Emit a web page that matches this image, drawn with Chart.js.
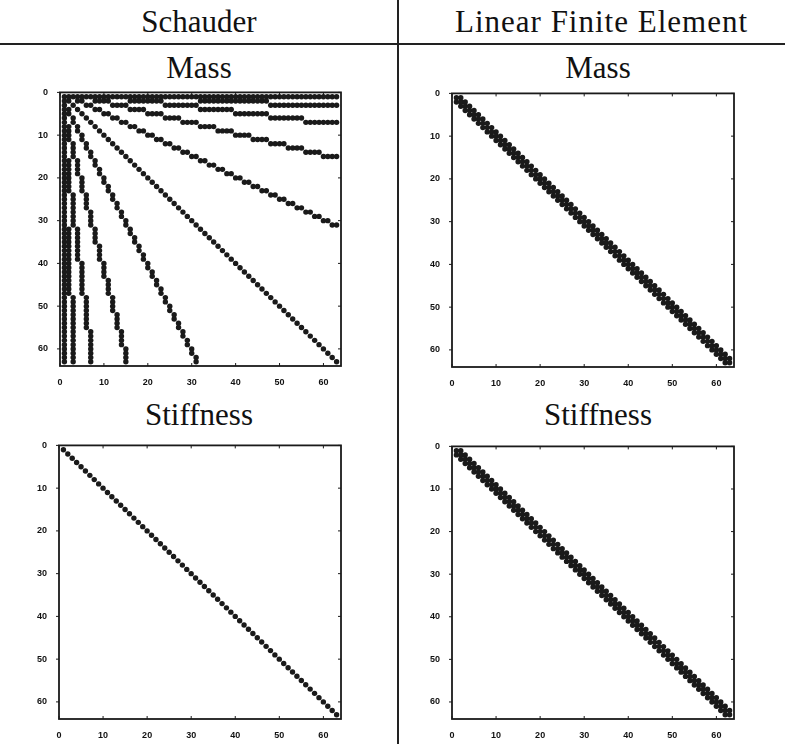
<!DOCTYPE html>
<html>
<head>
<meta charset="utf-8">
<script src="https://cdn.jsdelivr.net/npm/chart.js@4.4.1/dist/chart.umd.min.js"></script>
<style>
  html, body { margin: 0; padding: 0; background: #fff; }
  #page { position: relative; width: 785px; height: 744px; background: #fff; overflow: hidden; }
  .label { position: absolute; text-align: center; font-family: "Liberation Serif", serif; font-size: 31px; line-height: 36px; color: #111; white-space: nowrap; }
  .rule-h { position: absolute; left: 0; top: 43px; width: 785px; height: 2px; background: #222; }
  .rule-v { position: absolute; left: 397px; top: 0; width: 2px; height: 744px; background: #222; }
  canvas { position: absolute; }
</style>
</head>
<body>
<div id="page">
  <div class="label" style="left:0; width:398px; top:4px;">Schauder</div>
  <div class="label" style="left:408px; width:387px; top:4px; letter-spacing:1px;">Linear Finite Element</div>
  <div class="rule-h"></div>
  <div class="rule-v"></div>
  <div class="label" style="left:0; width:398px; top:50px;">Mass</div>
  <div class="label" style="left:398px; width:400px; top:50px;">Mass</div>
  <div class="label" style="left:0; width:398px; top:397px;">Stiffness</div>
  <div class="label" style="left:398px; width:400px; top:397px;">Stiffness</div>

  <canvas id="schauderMass"></canvas>
  <canvas id="feMass"></canvas>
  <canvas id="schauderStiff"></canvas>
  <canvas id="feStiff"></canvas>
</div>

<script>
// matrix size (nodes 1..63) and axis ticks
const matrixSize = 63;
const axisMax = 64;
const axisTicks = [0, 10, 20, 30, 40, 50, 60];

// Schauder mass: upper-triangle runs [row, firstCol, lastCol] besides the diagonal
const schauderMassRuns = [
    [1, 2, 63],
    [2, 4, 5], [2, 8, 11], [2, 16, 23], [2, 32, 47],
    [3, 6, 7], [3, 12, 15], [3, 24, 31], [3, 48, 63],
    [4, 8, 9], [4, 16, 19], [4, 32, 39],
    [5, 10, 11], [5, 20, 23], [5, 40, 47],
    [6, 12, 13], [6, 24, 27], [6, 48, 55],
    [7, 14, 15], [7, 28, 31], [7, 56, 63],
    [8, 16, 17], [8, 32, 35],
    [9, 18, 19], [9, 36, 39],
    [10, 20, 21], [10, 40, 43],
    [11, 22, 23], [11, 44, 47],
    [12, 24, 25], [12, 48, 51],
    [13, 26, 27], [13, 52, 55],
    [14, 28, 29], [14, 56, 59],
    [15, 30, 31], [15, 60, 63],
    [16, 32, 33], [17, 34, 35], [18, 36, 37], [19, 38, 39],
    [20, 40, 41], [21, 42, 43], [22, 44, 45], [23, 46, 47],
    [24, 48, 49], [25, 50, 51], [26, 52, 53], [27, 54, 55],
    [28, 56, 57], [29, 58, 59], [30, 60, 61], [31, 62, 63]
];

// band offsets from the diagonal
const schauderStiffBand = [0];
const feMassBand = [-1, 0, 1];
const feStiffBand = [-1, 0, 1];

// plot boxes in page pixels: [left, top, width, height]
const boxes = {
    schauderMass: [60, 91, 281, 275],
    feMass: [452, 92, 282, 275],
    schauderStiff: [59, 444, 282, 275],
    feStiff: [452, 445, 282, 274]
};

function bandPoints(offsets) {
    const pts = [];
    for (let i = 1; i <= matrixSize; i++) {
        offsets.forEach(o => {
            const j = i + o;
            if (j >= 1 && j <= matrixSize) pts.push({ x: j, y: i });
        });
    }
    return pts;
}

function runPoints(runs) {
    const pts = bandPoints([0]);
    runs.forEach(([row, from, to]) => {
        for (let c = from; c <= to; c++) {
            pts.push({ x: c, y: row });
            pts.push({ x: row, y: c });
        }
    });
    return pts;
}

const frameTicks = {
    id: 'frameTicks',
    afterDraw(chart) {
        const { ctx, chartArea: a, scales } = chart;
        ctx.save();
        ctx.strokeStyle = '#1a1a1a';
        ctx.lineWidth = 1.8;
        ctx.strokeRect(a.left, a.top, a.right - a.left, a.bottom - a.top);
        ctx.lineWidth = 1;
        ctx.beginPath();
        axisTicks.forEach(v => {
            const px = scales.x.getPixelForValue(v);
            ctx.moveTo(px, a.bottom); ctx.lineTo(px, a.bottom - 3);
            ctx.moveTo(px, a.top); ctx.lineTo(px, a.top + 3);
            const py = scales.y.getPixelForValue(v);
            ctx.moveTo(a.left, py); ctx.lineTo(a.left - 3, py);
            ctx.moveTo(a.right, py); ctx.lineTo(a.right - 3, py);
        });
        ctx.stroke();
        ctx.restore();
    }
};

function makeSpy(id, points) {
    const [left, top, w, h] = boxes[id];
    const padL = 30, padT = 8, padR = 8, padB = 20;
    const canvas = document.getElementById(id);
    canvas.width = w + padL + padR;
    canvas.height = h + padT + padB;
    canvas.style.left = (left - padL) + 'px';
    canvas.style.top = (top - padT) + 'px';

    const tickFont = { family: "'Liberation Sans', sans-serif", size: 9, weight: 'bold' };
    return new Chart(canvas, {
        type: 'scatter',
        data: {
            datasets: [{
                data: points,
                backgroundColor: '#1a1a1a',
                borderColor: '#1a1a1a',
                borderWidth: 0,
                pointRadius: 2.7,
                pointHoverRadius: 2.7
            }]
        },
        options: {
            responsive: false,
            animation: false,
            devicePixelRatio: 1,
            layout: { padding: { left: 0, top: padT, right: padR, bottom: 0 } },
            plugins: { legend: { display: false }, tooltip: { enabled: false } },
            scales: {
                x: {
                    type: 'linear',
                    position: 'bottom',
                    min: 0,
                    max: axisMax,
                    afterBuildTicks: s => { s.ticks = axisTicks.map(v => ({ value: v })); },
                    afterFit: s => { s.height = padB; },
                    grid: { display: false },
                    border: { display: false },
                    ticks: { color: '#111', font: tickFont, padding: 3, maxRotation: 0 }
                },
                y: {
                    type: 'linear',
                    reverse: true,
                    min: 0,
                    max: axisMax,
                    afterBuildTicks: s => { s.ticks = axisTicks.map(v => ({ value: v })); },
                    afterFit: s => { s.width = padL; },
                    grid: { display: false },
                    border: { display: false },
                    ticks: { color: '#111', font: tickFont, padding: 4 }
                }
            }
        },
        plugins: [frameTicks]
    });
}

makeSpy('schauderMass', runPoints(schauderMassRuns));
makeSpy('feMass', bandPoints(feMassBand));
makeSpy('schauderStiff', bandPoints(schauderStiffBand));
makeSpy('feStiff', bandPoints(feStiffBand));
</script>
</body>
</html>
